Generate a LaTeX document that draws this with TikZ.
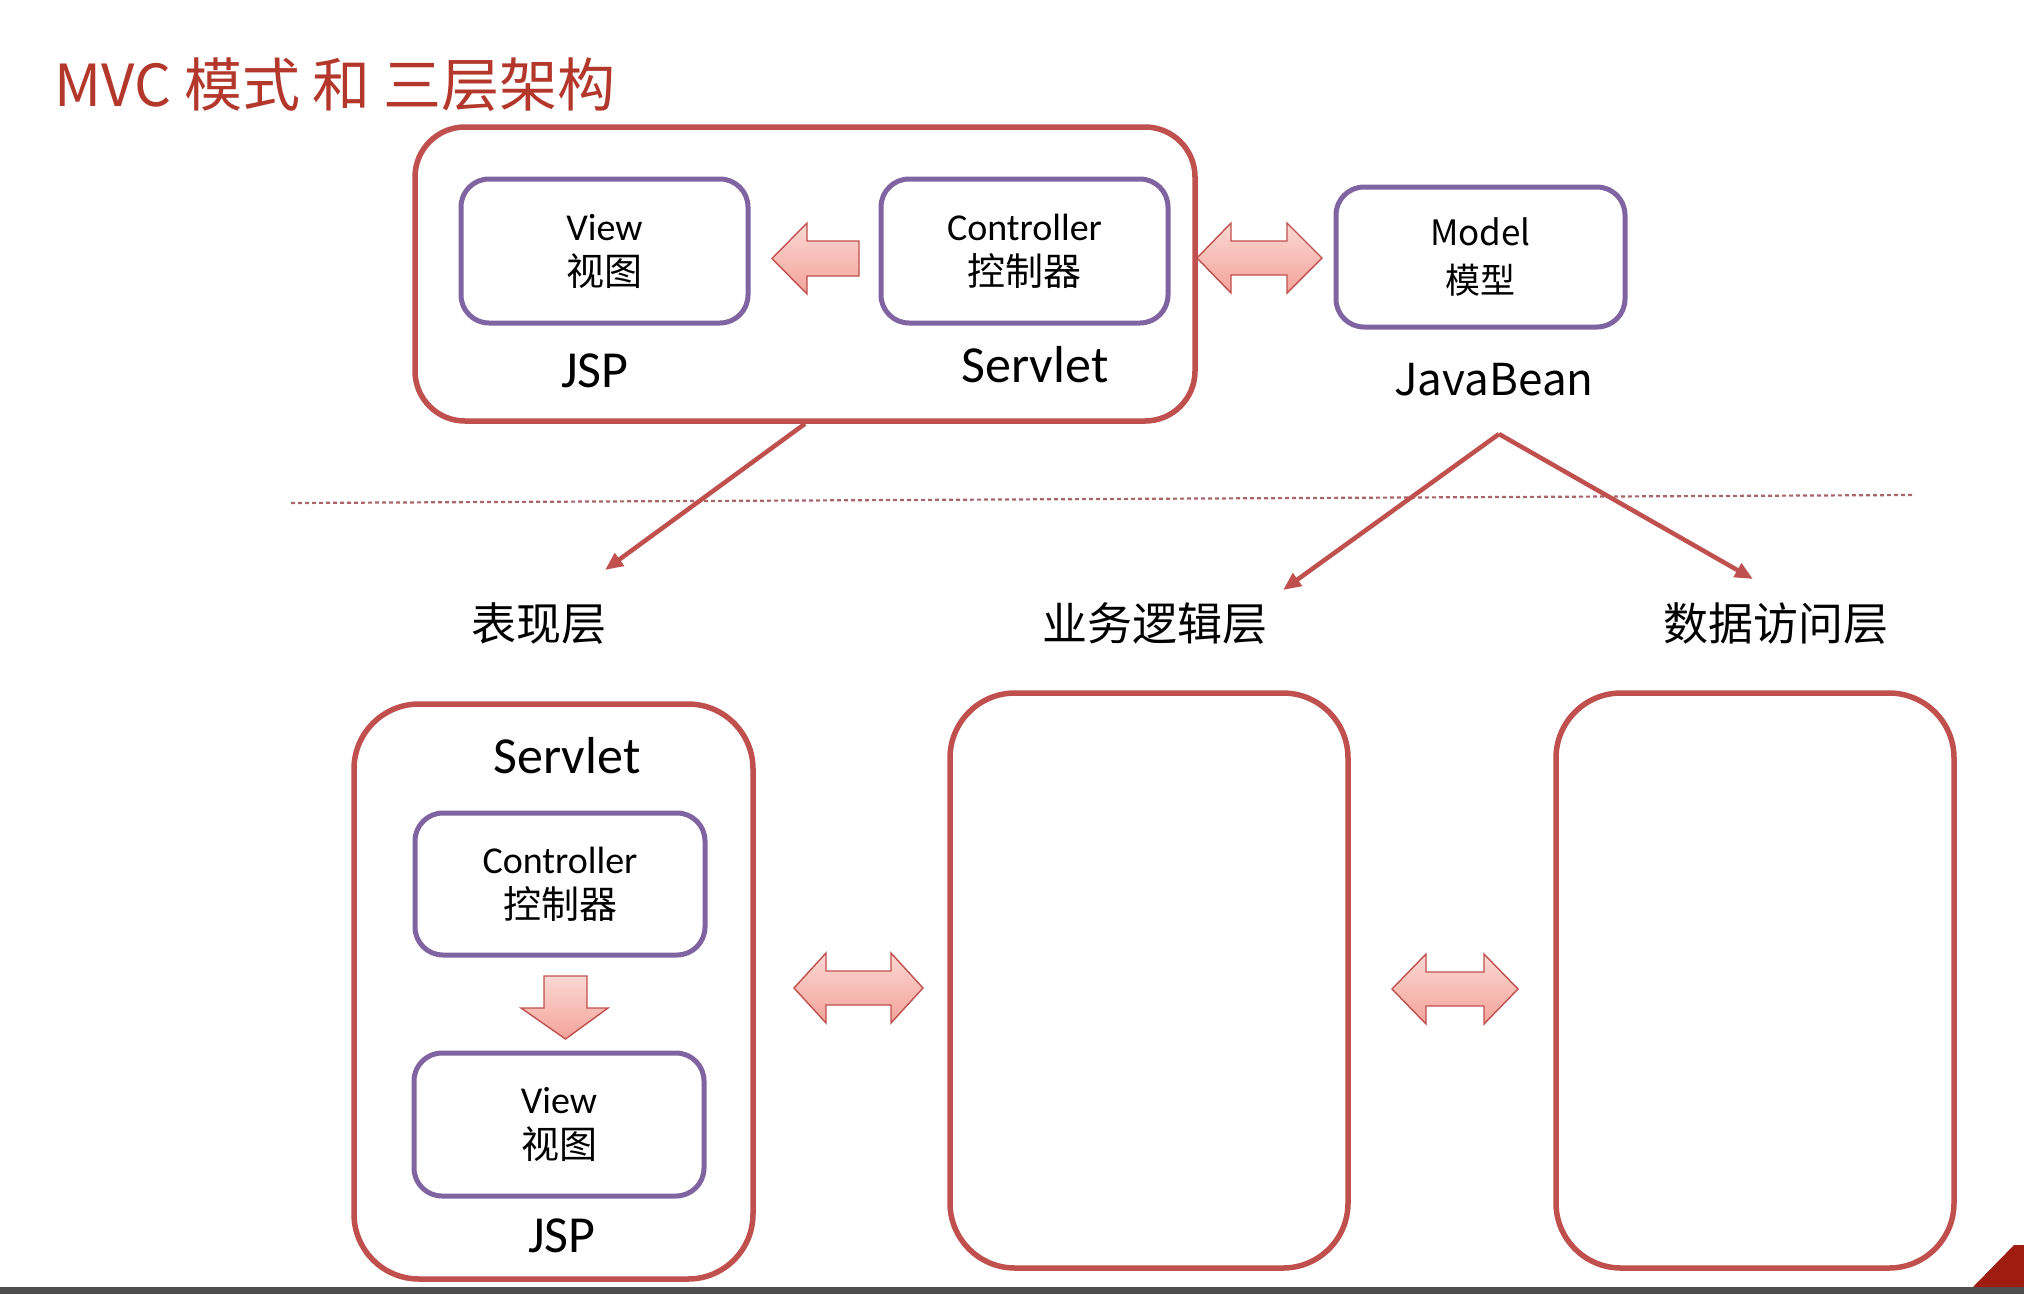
\documentclass[tikz,border=0pt]{standalone}
\usepackage{fontspec}
\setmainfont{Carlito}
\newfontfamily\cjk{Noto Sans CJK SC}
\usetikzlibrary{arrows.meta,calc}
\definecolor{redline}{HTML}{C0504D}
\definecolor{purpleline}{HTML}{8064A2}
\definecolor{titlered}{HTML}{B3372A}
\definecolor{arrowtop}{HTML}{FBD8D3}
\definecolor{arrowbot}{HTML}{F3A39A}
\definecolor{dashcol}{HTML}{A8656A}
\definecolor{barcol}{HTML}{4F4F4F}
\definecolor{cornerred}{HTML}{9E1C10}
\begin{document}
\begin{tikzpicture}[x=1pt,y=-1pt,
  redbox/.style={draw=redline, line width=5.5pt, rounded corners=50pt, inner sep=0pt},
  bigredbox/.style={draw=redline, line width=5.5pt, rounded corners=65pt, inner sep=0pt},
  purplebox/.style={draw=purpleline, line width=5pt, rounded corners=28pt, align=center,
    inner sep=0pt, font=\fontsize{38}{45}\selectfont},
  blockarrow/.style={draw=redline, line width=1.4pt, top color=arrowtop, bottom color=arrowbot, line join=miter},
  linkarrow/.style={draw=redline, line width=4.5pt, -{Triangle[length=18pt,width=15pt]}},
  dashline/.style={draw=dashcol, line width=2.2pt, dash pattern=on 4pt off 3pt},
  techlabel/.style={anchor=base, font=\fontsize{52}{60}\selectfont},
  layerlabel/.style={anchor=base, font=\cjk\fontsize{45}{52}\selectfont},
]
\fill[white] (0,0) rectangle (2024,1294);
\useasboundingbox (0,0) rectangle (2024,1294);

% title
\node[anchor=base west, inner sep=0pt, text=titlered, font=\cjk\fontsize{58}{66}\selectfont] (title) at (54,106) {MVC 模式 和 三层架构};

% top MVC group
\node[redbox, minimum width=780pt, minimum height=294pt] (mvc) at (805,274) {};
\node[purplebox, minimum width=287pt, minimum height=144pt] (view) at (604.5,251) {View\\{\cjk 视图}};
\node[purplebox, minimum width=287pt, minimum height=144pt] (ctrl) at (1024.5,251) {Controller\\{\cjk 控制器}};
\node[techlabel] (jsp1) at (595,387) {JSP};
\node[techlabel] (servlet1) at (1035,382) {Servlet};

\node[purplebox, minimum width=289pt, minimum height=140pt, font=\cjk\fontsize{35}{48}\selectfont] (model) at (1480.5,257) {Model\\模型};
\node[anchor=base, font=\cjk\fontsize{44}{52}\selectfont] (javabean) at (1494,395) {JavaBean};

% block arrows (top)
\path[blockarrow] (859,241) -- (807,241) -- (807,223) -- (772,258.5) -- (807,294) -- (807,276) -- (859,276) -- cycle;
\path[blockarrow] (1197,258) -- (1231,223) -- (1231,241) -- (1287,241) -- (1287,223) -- (1322,258)
  -- (1287,293) -- (1287,275) -- (1231,275) -- (1231,293) -- cycle;

% dashed separator
\coordinate (dl) at (291,503);
\coordinate (dr) at (1912,495);
\draw[dashline] (dl) -- (dr);

% connector arrows
\coordinate (a1e) at (605,570);
\coordinate (jbs) at (1499,434);
\coordinate (a2e) at (1283,590);
\coordinate (a3e) at (1753,579);
\draw[linkarrow] (mvc.south) -- (a1e);
\draw[linkarrow] (jbs) -- (a2e);
\draw[linkarrow] (jbs) -- (a3e);

% layer labels
\node[layerlabel] (pres) at (539,640) {表现层};
\node[layerlabel] (biz) at (1155,640) {业务逻辑层};
\node[layerlabel] (data) at (1776,640) {数据访问层};

% bottom boxes
\node[bigredbox, minimum width=399pt, minimum height=575pt] (presbox) at (553.5,991.5) {};
\node[bigredbox, minimum width=398pt, minimum height=575pt] (bizbox) at (1149,980.5) {};
\node[bigredbox, minimum width=398pt, minimum height=575pt] (databox) at (1755,980.5) {};

\node[techlabel] (servlet2) at (567,773) {Servlet};
\node[purplebox, minimum width=290pt, minimum height=142pt] (ctrl2) at (560,884) {Controller\\{\cjk 控制器}};
\node[purplebox, minimum width=290pt, minimum height=143pt] (view2) at (559,1124.5) {View\\{\cjk 视图}};
\node[techlabel] (jsp2) at (562,1252) {JSP};

% down arrow
\path[blockarrow] (544,976) -- (587,976) -- (587,1008) -- (608,1008) -- (565.5,1039) -- (521,1008) -- (544,1008) -- cycle;

% bottom double arrows
\path[blockarrow] (794,988) -- (826,953) -- (826,971) -- (891,971) -- (891,953) -- (923,988)
  -- (891,1023) -- (891,1005) -- (826,1005) -- (826,1023) -- cycle;
\path[blockarrow] (1392,989) -- (1426,954) -- (1426,972) -- (1484,972) -- (1484,954) -- (1518,989)
  -- (1484,1024) -- (1484,1006) -- (1426,1006) -- (1426,1024) -- cycle;

% slide footer
\fill[barcol] (0,1287) rectangle (2024,1294);
\fill[cornerred] (1973,1287) -- (2014,1245) -- (2024,1245) -- (2024,1287) -- cycle;
\end{tikzpicture}
\end{document}
